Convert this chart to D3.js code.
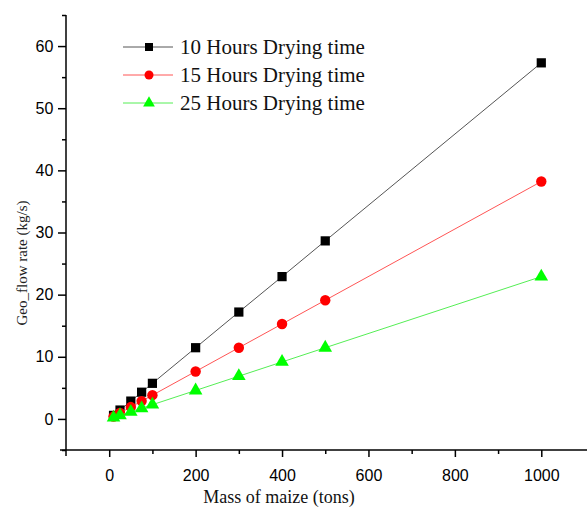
<!DOCTYPE html>
<html>
<head>
<meta charset="utf-8">
<script src="https://cdn.jsdelivr.net/npm/d3@7"></script>
<style>
body { margin: 0; background: #fff; }
</style>
</head>
<body>
<script>
// values
var mass = [10, 25, 50, 75, 100, 200, 300, 400, 500, 1000];
var flow10 = [0.57, 1.43, 2.87, 4.3, 5.73, 11.46, 17.2, 22.9, 28.65, 57.3];
var flow15 = [0.38, 0.96, 1.91, 2.87, 3.82, 7.64, 11.46, 15.28, 19.1, 38.2];
var flow25 = [0.23, 0.57, 1.15, 1.72, 2.29, 4.58, 6.88, 9.17, 11.46, 22.9];
var seriesNames = ['10 Hours Drying time', '15 Hours Drying time', '25 Hours Drying time'];
var xTicks = [0, 200, 400, 600, 800, 1000];
var yTicks = [0, 10, 20, 30, 40, 50, 60];

var W = 587, H = 510;
var svg = d3.select('body').append('svg').attr('width', W).attr('height', H);

var x = d3.scaleLinear().domain([-100, 1100]).range([66, 584.5]);
var y = d3.scaleLinear().domain([-5, 65]).range([450, 15]);

var series = [
  {name: seriesNames[0], vals: flow10, line: '#555', fill: '#000', shape: d3.symbolSquare, size: 85},
  {name: seriesNames[1], vals: flow15, line: '#f55', fill: '#f00', shape: d3.symbolCircle, size: 85},
  {name: seriesNames[2], vals: flow25, line: '#5e5', fill: '#0f0', shape: d3.symbolTriangle, size: 80}
];

// axes
var xAxis = d3.axisBottom(x).tickValues(xTicks).tickSize(7).tickFormat(d3.format('d'));
var xMinor = d3.axisBottom(x).tickValues([100, 300, 500, 700, 900]).tickSize(4).tickFormat('');
var yAxis = d3.axisLeft(y).tickValues(yTicks).tickSize(8).tickFormat(d3.format('d'));
var yMinor = d3.axisLeft(y).tickValues([-5, 5, 15, 25, 35, 45, 55, 65]).tickSize(4).tickFormat('');

function style(g) {
  g.select('.domain').remove();
  g.selectAll('line').attr('stroke', '#000').attr('stroke-width', 1.5);
  g.selectAll('text').attr('font-family', 'Liberation Sans, Arial, sans-serif')
    .attr('font-size', 16).attr('fill', '#000');
}

var gx = svg.append('g').attr('transform', 'translate(0,450)');
gx.append('g').call(xAxis).call(style).selectAll('text').attr('dy', '1.3em');
gx.append('g').call(xMinor).call(style);
gx.append('line').attr('x1', 60).attr('x2', W).attr('y1', 0).attr('y2', 0)
  .attr('stroke', '#000').attr('stroke-width', 1.5);

var gy = svg.append('g').attr('transform', 'translate(66,0)');
gy.append('g').call(yAxis).call(style).selectAll('text').attr('dx', '-0.1em');
gy.append('g').call(yMinor).call(style);
gy.append('line').attr('x1', 0).attr('x2', 0).attr('y1', 15).attr('y2', 456)
  .attr('stroke', '#000').attr('stroke-width', 1.5);

// series
var line = d3.line().x(function(d, i) { return x(mass[i]); }).y(function(d) { return y(d); });
series.forEach(function(s) {
  svg.append('path').datum(s.vals).attr('d', line)
    .attr('fill', 'none').attr('stroke', s.line).attr('stroke-width', 1);
  svg.selectAll(null).data(s.vals).enter().append('path')
    .attr('d', d3.symbol().type(s.shape).size(s.size))
    .attr('transform', function(d, i) { return 'translate(' + x(mass[i]) + ',' + y(d) + ')'; })
    .attr('fill', s.fill);
});

// legend
var leg = svg.append('g');
series.forEach(function(s, i) {
  var ly = 47 + i * 28;
  leg.append('line').attr('x1', 123).attr('x2', 173).attr('y1', ly).attr('y2', ly)
    .attr('stroke', s.line).attr('stroke-width', 1);
  leg.append('path').attr('d', d3.symbol().type(s.shape).size(s.size * 0.75))
    .attr('transform', 'translate(149,' + ly + ')').attr('fill', s.fill);
  leg.append('text').attr('x', 180).attr('y', ly + 7).text(s.name)
    .attr('font-family', 'Liberation Serif, Times New Roman, serif').attr('font-size', 21).attr('fill', '#111');
});

// titles
svg.append('text').attr('x', 279).attr('y', 503).attr('text-anchor', 'middle')
  .attr('font-family', 'Liberation Serif, Times New Roman, serif').attr('font-size', 18)
  .attr('fill', '#111').text('Mass of maize (tons)');
svg.append('text').attr('transform', 'translate(27,263) rotate(-90)').attr('text-anchor', 'middle')
  .attr('font-family', 'Liberation Serif, Times New Roman, serif').attr('font-size', 15)
  .attr('fill', '#222').text('Geo_flow rate (kg/s)');
</script>
</body>
</html>
